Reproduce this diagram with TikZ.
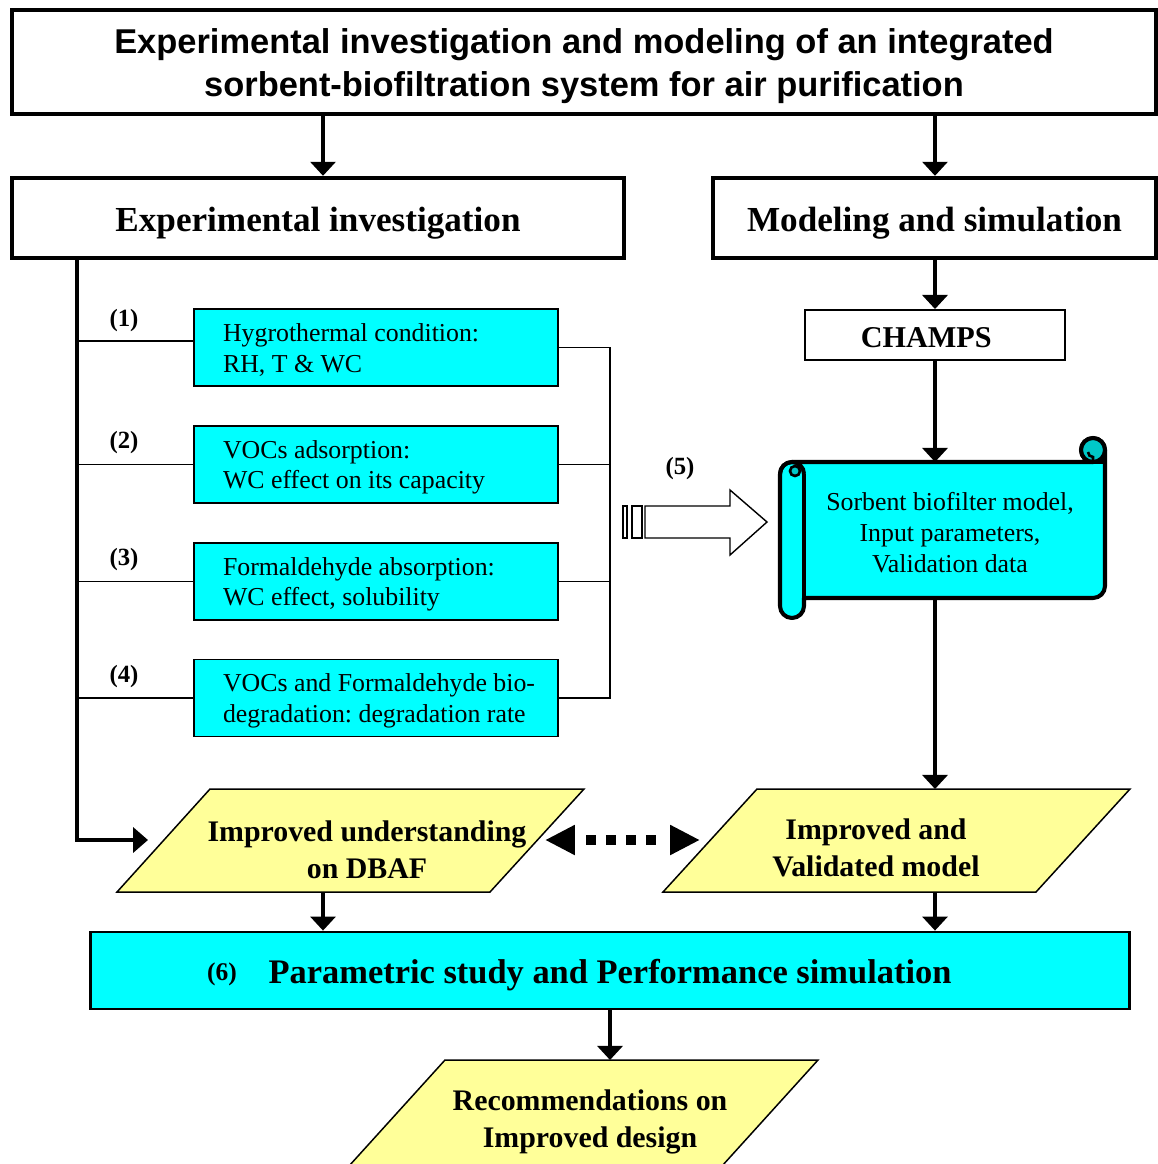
\documentclass[tikz,border=0pt]{standalone}
\usepackage{fontspec}
\setmainfont{Liberation Serif}
\newfontfamily\arialfont{Liberation Sans}
\usetikzlibrary{arrows.meta}
\definecolor{cy}{RGB}{0,255,255}
\definecolor{cyd}{RGB}{0,200,200}
\definecolor{yel}{RGB}{255,255,153}
\newcommand\lowr[2]{\raisebox{-#1}[\height][\depth]{#2}}
\begin{document}
\frenchspacing
\begin{tikzpicture}[x=0.02cm,y=-0.02cm,
  thickln/.style={line width=2.5pt},
  thinln/.style={line width=1pt},
  arr/.style={line width=2.5pt,-{Triangle[length=8pt,width=14.2pt]}},
  bigbox/.style={draw,line width=2.5pt,minimum height=1.6cm,inner sep=0pt,
    font={\bfseries\fontsize{20pt}{24pt}\selectfont}},
  cybox/.style={draw,fill=cy,line width=0.85pt,minimum height=1.54cm,
    text width=6.12cm,inner xsep=0.58cm,inner ysep=0pt,align=flush left,
    font={\fontsize{14.7pt}{17.6pt}\selectfont}},
  numlbl/.style={font={\bfseries\fontsize{14.1pt}{16pt}\selectfont},inner sep=0pt},
  para/.style={draw,fill=yel,line width=0.85pt},
  paratext/.style={align=center,inner sep=0pt,
    font={\bfseries\fontsize{17pt}{21pt}\selectfont}},
  dotarr/.style={line width=5.67pt,
    {Triangle[length=17pt,width=16pt]}-{Triangle[length=17pt,width=16pt]},
    dash pattern=on 0pt off 7.4pt on 5.67pt off 5.67pt on 5.67pt off 5.67pt on 5.67pt off 5.67pt on 5.67pt off 20pt}
]
\useasboundingbox (0,0) rectangle (1158,1164);
\fill[white] (0,0) rectangle (1158,1164);
\clip (0,0) rectangle (1158,1164);

% helper coordinates
\coordinate (cL) at (323,0);
\coordinate (cR) at (935,0);
\coordinate (spx) at (77,0);
\coordinate (brk) at (610,0);

% title
\node[draw,line width=2.5pt,minimum width=22.88cm,minimum height=2.08cm,inner sep=0pt,
  align=center,font={\arialfont\bfseries\fontsize{19.6pt}{24pt}\selectfont}]
  (title) at (584,62) {\rule{0pt}{18.8pt}Experimental investigation and modeling of an integrated\\sorbent-biofiltration system for air purification};

% second row
\node[bigbox,minimum width=12.24cm] (exp) at (318,218) {\lowr{2.8pt}{Experimental investigation}};
\node[bigbox,minimum width=8.86cm] (mod) at (934.5,218) {\lowr{2.8pt}{Modeling and simulation}};

\draw[arr] (title.south -| cL) -- (exp.north -| cL);
\draw[arr] (title.south -| cR) -- (mod.north -| cR);

% CHAMPS
\node[draw,line width=1.1pt,minimum width=5.2cm,minimum height=1cm,inner sep=0pt,
  font={\bfseries\fontsize{17.2pt}{20pt}\selectfont}] (champs) at (935,335) {\lowr{1.7pt}{CHAMPS}\hspace*{10pt}};
\draw[arr] (mod.south -| cR) -- (champs.north -| cR);

% experiment boxes
\node[cybox] (b1) at (376,347.5) {\rule{0pt}{13.4pt}Hygrothermal condition:\\RH, T \& WC};
\node[cybox] (b2) at (376,464.5) {\rule{0pt}{13.4pt}VOCs adsorption:\\WC effect on its capacity};
\node[cybox] (b3) at (376,581.5) {\rule{0pt}{13.4pt}Formaldehyde absorption:\\WC effect, solubility};
\node[cybox] (b4) at (376,698) {\rule{0pt}{13.4pt}\mbox{VOCs and Formaldehyde bio-}\\\mbox{degradation: degradation rate}};

\node[numlbl] (l1) at (124,321) {(1)};
\node[numlbl] (l2) at (124,443) {(2)};
\node[numlbl] (l3) at (124,560) {(3)};
\node[numlbl] (l4) at (124,677) {(4)};

\coordinate (b1w) at ([yshift=3.7pt]b1.west);
\draw[thinln] (b1w -| spx) -- (b1w);
\draw[thinln] (b2.west -| spx) -- (b2.west);
\draw[thinln] (b3.west -| spx) -- (b3.west);
\draw[thinln] (b4.west -| spx) -- (b4.west);

% right bracket
\draw[thinln] (b1.east) -- (b1.east -| brk) -- (b4.east -| brk) -- (b4.east);
\draw[thinln] (b2.east) -- (b2.east -| brk);
\draw[thinln] (b3.east) -- (b3.east -| brk);

% hollow arrow (5)
\node[numlbl] (l5) at (680,469) {(5)};
\draw[line width=0.8pt,fill=white] (645,506) -- (730,506) -- (730,490) -- (767,522) -- (730,555) -- (730,538) -- (645,538) -- cycle;
\draw[line width=0.8pt,fill=white] (623,506) rectangle (627,538);
\draw[line width=0.8pt,fill=white] (632,506) rectangle (642,538);

% scroll
\draw[line width=2.3pt,fill=cy,line join=round]
  (780,606) -- (780,474) arc(180:270:12) -- (1093,462) arc(90:360:12)
  -- (1105,586) arc(0:90:12) -- (804,598) -- (804,606) arc(0:180:12) -- cycle;
\draw[line width=2.3pt,fill=cyd] (1093,450) circle (12);
\draw[line width=2.3pt] (1093,462) -- (1105,462);
\draw[line width=1.5pt] (1093,462) -- (1093,457) arc(90:180:5);
\draw[line width=2.3pt] (804,474) -- (804,598);
\draw[line width=2.3pt] (780,474) arc(180:360:12);
\draw[line width=1.5pt,fill=cyd] (795,471) circle (5);
\node[align=center,inner sep=0pt,font={\fontsize{14.7pt}{17.6pt}\selectfont}] (scroll) at (950,533)
  {Sorbent biofilter model,\\Input parameters,\\Validation data};
\coordinate (scT) at (935,462);
\coordinate (scB) at (935,598);
\draw[arr] (champs.south -| cR) -- (scT);

% parallelograms
\draw[para] (210,789) -- (584,789) -- (490,892) -- (117,892) -- cycle;
\node[paratext] (und) at (367,849.5) {Improved understanding\\on DBAF};
\draw[para] (757,789) -- (1130,789) -- (1036,892) -- (663,892) -- cycle;
\node[paratext] (val) at (876,847.5) {Improved and\\Validated model};

\coordinate (undL) at (148,840);
\coordinate (undR) at (545,840);
\coordinate (valL) at (700,840);
\coordinate (undB) at (323,892);
\coordinate (valT) at (935,789);
\coordinate (valB) at (935,892);

\draw[thickln,-{Triangle[length=8.5pt,width=14.2pt]}] (exp.south -| spx) |- (undL);
\draw[arr] (scB) -- (valT);
\draw[dotarr] (undR) -- (valL);

% parametric study
\node[draw,fill=cy,line width=1.6pt,minimum width=20.8cm,minimum height=1.54cm,inner sep=0pt,
  font={\bfseries\fontsize{19.6pt}{23pt}\selectfont}] (param) at (610,970.5)
  {\lowr{2.8pt}{Parametric study and Performance simulation}};
\node[numlbl,font={\bfseries\fontsize{14.5pt}{16pt}\selectfont}] (l6) at (222,974) {(6)};
\draw[arr] (undB) -- (param.north -| cL);
\draw[arr] (valB) -- (param.north -| cR);

% recommendations
\draw[para] (445,1060) -- (818,1060) -- (722,1166) -- (349,1166) -- cycle;
\node[paratext] (rec) at (590,1122) {Recommendations on\\Improved design};
\coordinate (recT) at (610,1060);
\draw[arr] (param.south) -- (recT);
\end{tikzpicture}
\end{document}
